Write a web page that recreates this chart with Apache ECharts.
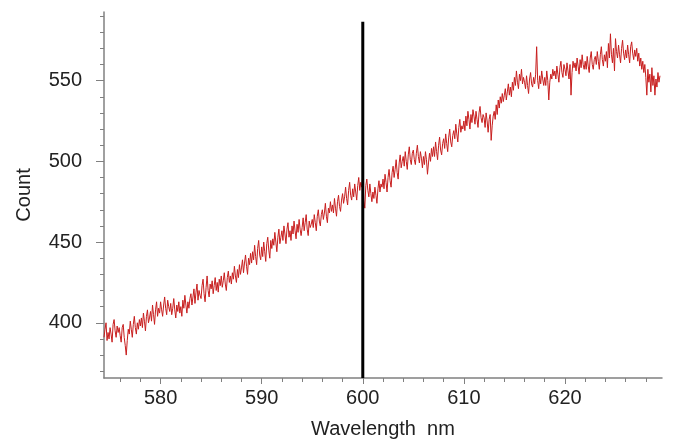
<!DOCTYPE html>
<html>
<head>
<meta charset="utf-8">
<script src="https://cdn.jsdelivr.net/npm/echarts@6/dist/echarts.min.js"></script>
<style>html,body{margin:0;padding:0;background:#fff}#c{width:673px;height:441px}</style>
</head>
<body>
<div id="c"></div>
<script>
// Spectrum sampled every 0.1 nm starting at 574.4 nm
const waveStart = 574.4;
const waveStep = 0.1;
const counts = [
  391, 396, 400, 389, 394, 390,
  397, 393, 388, 399, 402, 395, 391, 398, 394, 397,
  392, 388, 397, 399, 391, 386, 380, 389, 396, 393,
  401, 396, 391, 399, 404, 397, 393, 400, 396, 402,
  398, 403, 397, 406, 401, 395, 404, 408, 400, 403,
  407, 401, 411, 405, 399, 408, 413, 404, 409, 406,
  413, 408, 404, 411, 416, 409, 405, 414, 410, 407,
  412, 405, 409, 415, 408, 403, 411, 407, 413, 406,
  410, 404, 414, 409, 417, 411, 406, 413, 409, 415,
  418, 411, 416, 421, 412, 419, 424, 414, 420, 417,
  415, 423, 427, 418, 413, 422, 429, 420, 416, 424,
  421, 426, 418, 423, 428, 420, 425, 419, 427, 423,
  429, 422, 426, 431, 424, 420, 428, 432, 425, 429,
  424, 431, 427, 435, 429, 425, 433, 428, 436, 430,
  434, 439, 431, 437, 442, 435, 430, 440, 436, 443,
  437, 444, 439, 448, 441, 436, 446, 451, 442, 439,
  447, 441, 450, 444, 438, 449, 453, 445, 440, 451,
  446, 452, 448, 456, 450, 444, 453, 458, 449, 453,
  457, 451, 460, 455, 449, 458, 462, 453, 457, 451,
  460, 455, 463, 457, 452, 461, 456, 464, 458, 454,
  459, 465, 457, 462, 467, 458, 454, 463, 459, 461,
  464, 459, 467, 462, 457, 466, 470, 463, 460, 467,
  470, 464, 468, 474, 466, 462, 471, 468, 475, 469,
  473, 468, 477, 471, 466, 475, 479, 472, 469, 476,
  480, 474, 478, 484, 477, 473, 482, 487, 479, 476,
  483, 478, 486, 481, 476, 485, 490, 482, 487, 484,
  492, 476, 471, 485, 489, 482, 478, 486, 480, 475,
  481, 477, 484, 479, 474, 483, 488, 481, 486, 484,
  489, 483, 492, 487, 481, 490, 495, 488, 484, 493,
  497, 490, 495, 501, 493, 489, 499, 504, 496, 500,
  503, 497, 506, 500, 495, 504, 509, 501, 498, 505,
  507, 501, 498, 505, 510, 503, 499, 506, 502, 496,
  503, 498, 506, 501, 492, 499, 505, 500, 508, 503,
  509, 503, 512, 506, 501, 510, 515, 507, 504, 511,
  514, 508, 517, 511, 506, 515, 520, 512, 509, 516,
  519, 514, 523, 517, 512, 521, 526, 518, 522, 520,
  525, 519, 528, 522, 531, 526, 520, 529, 524, 532,
  528, 523, 531, 526, 521, 530, 534, 527, 524, 529,
  527, 521, 530, 525, 518, 526, 529, 513, 522, 528,
  531, 526, 535, 529, 538, 533, 540, 536, 542, 537,
  541, 545, 538, 543, 548, 541, 546, 540, 549, 544,
  552, 547, 556, 549, 545, 554, 550, 557, 548, 552,
  549, 545, 553, 547, 542, 551, 555, 548, 546, 552,
  548, 554, 571, 550, 545, 553, 548, 556, 551, 547,
  552, 547, 556, 550, 538, 549, 554, 551, 557, 553,
  556, 551, 559, 554, 549, 558, 562, 555, 552, 560,
  557, 553, 561, 556, 551, 560, 541, 555, 562, 558,
  561, 556, 564, 559, 554, 563, 558, 566, 560, 557,
  562, 557, 565, 559, 555, 564, 568, 560, 557, 563,
  565, 560, 568, 562, 557, 566, 571, 563, 559, 566,
  562, 568, 558, 573, 564, 579, 566, 561, 570, 556,
  576, 568, 564, 572, 566, 561, 570, 575, 567, 563,
  569, 564, 572, 566, 561, 571, 574, 567, 563, 569,
  565, 570, 562, 567, 559, 564, 557, 562, 555, 560,
  552, 541, 557, 549, 554, 543, 558, 547, 553, 541,
  551, 546, 555, 549, 553
];
const markerWave = [600, 600];
const markerCount = [365.8, 586.5];

const xLabelTicks = [580, 590, 600, 610, 620];
const xMinorTicks = [576, 578, 582, 584, 586, 588, 592, 594, 596, 598, 602, 604, 606, 608, 612, 614, 616, 618, 622, 624, 626, 628];
const yLabelTicks = [400, 450, 500, 550];
const yMinorTicks = [370, 380, 390, 410, 420, 430, 440, 460, 470, 480, 490, 510, 520, 530, 540, 560, 570, 580, 590];

const xMin = 574.4, xMax = 629.6, yMin = 365.8, yMax = 592.5;

const spectrum = counts.map((v, i) => [+(waveStart + i * waveStep).toFixed(2), v]);
const marker = markerWave.map((w, i) => [w, markerCount[i]]);

const font = "'Liberation Sans', Arial, sans-serif";
const axisColor = '#808080';
const textColor = '#222';

const chart = echarts.init(document.getElementById('c'), null, {renderer: 'canvas'});
chart.setOption({
  animation: false,
  backgroundColor: '#fff',
  grid: {left: 104, right: 11, top: 12, bottom: 63, containLabel: false, outerBoundsMode: 'none'},
  xAxis: [{
    type: 'value', min: xMin, max: xMax, position: 'bottom',
    name: 'Wavelength  nm', nameLocation: 'middle', nameGap: 41,
    nameTextStyle: {fontFamily: font, fontSize: 20, color: textColor},
    axisLine: {show: true, lineStyle: {color: axisColor, width: 1.5}},
    axisTick: {show: true, customValues: xLabelTicks, length: 6, lineStyle: {color: axisColor, width: 1}},
    axisLabel: {show: true, customValues: xLabelTicks, margin: 10, fontFamily: font, fontSize: 20, color: textColor},
    splitLine: {show: false}
  }, {
    type: 'value', min: xMin, max: xMax, position: 'bottom',
    axisLine: {show: false},
    axisTick: {show: true, customValues: xMinorTicks, length: 4, lineStyle: {color: axisColor, width: 1}},
    axisLabel: {show: false},
    splitLine: {show: false}
  }],
  yAxis: [{
    type: 'value', min: yMin, max: yMax, position: 'left',
    name: 'Count', nameLocation: 'middle', nameGap: 70,
    nameTextStyle: {fontFamily: font, fontSize: 20, color: textColor},
    axisLine: {show: true, lineStyle: {color: axisColor, width: 1.5}},
    axisTick: {show: true, customValues: yLabelTicks, length: 8, lineStyle: {color: axisColor, width: 1}},
    axisLabel: {show: true, customValues: yLabelTicks, margin: 22, fontFamily: font, fontSize: 20, color: textColor},
    splitLine: {show: false}
  }, {
    type: 'value', min: yMin, max: yMax, position: 'left',
    axisLine: {show: false},
    axisTick: {show: true, customValues: yMinorTicks, length: 4, lineStyle: {color: axisColor, width: 1}},
    axisLabel: {show: false},
    splitLine: {show: false}
  }],
  series: [{
    type: 'line', data: spectrum, showSymbol: false, symbol: 'none',
    lineStyle: {color: '#c81e1e', width: 1},
    z: 2
  }, {
    type: 'line', data: marker, showSymbol: false, symbol: 'none',
    lineStyle: {color: '#000', width: 3},
    z: 3
  }]
});
</script>
</body>
</html>
